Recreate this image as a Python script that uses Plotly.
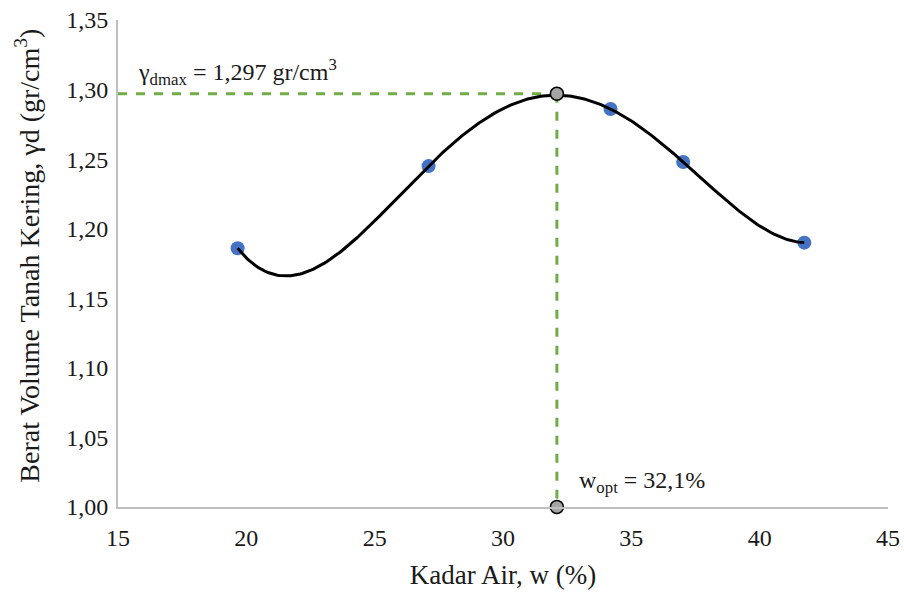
import numpy as np
import plotly.graph_objects as go

# Compaction test results
kadar_air = [19.66, 27.10, 34.19, 37.02, 41.74]        # water content w (%)
berat_volume = [1.186, 1.245, 1.286, 1.248, 1.190]     # dry unit weight (gr/cm3)

# Optimum from the compaction curve
w_opt = 32.1
gamma_dmax = 1.297
y_base = 1.00
x_base = 15

x_ticks = [15, 20, 25, 30, 35, 40, 45]
y_ticks = [1.00, 1.05, 1.10, 1.15, 1.20, 1.25, 1.30, 1.35]

# 4th-order polynomial trendline through the test points
coef = np.polyfit(kadar_air, berat_volume, 4)
xs = np.linspace(min(kadar_air), max(kadar_air), 300)
ys = np.polyval(coef, xs)

FONT = "Liberation Serif, Times New Roman, serif"
GREEN = "#70AD47"
TXT = "#1a1a1a"

fig = go.Figure()

fig.add_trace(go.Scatter(
    x=kadar_air, y=berat_volume, mode="markers",
    marker=dict(color="#4472C4", size=14, line=dict(width=0)),
    hoverinfo="skip", showlegend=False))

# guide lines to the optimum point
fig.add_trace(go.Scatter(
    x=[x_base, w_opt], y=[gamma_dmax, gamma_dmax], mode="lines",
    line=dict(color=GREEN, width=3, dash="dash"), showlegend=False))
fig.add_trace(go.Scatter(
    x=[w_opt, w_opt], y=[gamma_dmax, y_base], mode="lines",
    line=dict(color=GREEN, width=3, dash="dash"), showlegend=False))

fig.add_trace(go.Scatter(
    x=xs, y=ys, mode="lines",
    line=dict(color="black", width=3), showlegend=False))

fig.add_trace(go.Scatter(
    x=[w_opt, w_opt], y=[gamma_dmax, y_base], mode="markers",
    marker=dict(color="#A5A5A5", size=13, line=dict(color="black", width=1.5)),
    cliponaxis=False, showlegend=False))

fig.add_annotation(
    x=x_base, y=gamma_dmax, xref="x", yref="y",
    xanchor="left", yanchor="bottom", xshift=18, yshift=3,
    text="γ<sub>dmax</sub> = 1,297 gr/cm<sup>3</sup>",
    showarrow=False, font=dict(family=FONT, size=24, color=TXT))

fig.add_annotation(
    x=w_opt, y=y_base, xref="x", yref="y",
    xanchor="left", yanchor="bottom", xshift=20, yshift=8,
    text="w<sub>opt</sub> = 32,1%",
    showarrow=False, font=dict(family=FONT, size=24, color=TXT))

# y-axis title, placed on its own
fig.add_annotation(
    x=0, y=0.516, xref="paper", yref="paper",
    xanchor="center", yanchor="middle", xshift=-90,
    textangle=-90,
    text="Berat Volume Tanah Kering, γd (gr/cm<sup>3</sup>)",
    showarrow=False, font=dict(family=FONT, size=28, color=TXT))

fig.update_layout(
    width=904, height=594,
    margin=dict(l=118, r=16, t=20, b=87, autoexpand=False),
    paper_bgcolor="white", plot_bgcolor="white",
    separators=", ",
    font=dict(family=FONT, size=24, color=TXT),
)

fig.update_xaxes(
    range=[15, 45], tickvals=x_ticks, tickformat="d",
    showgrid=False, zeroline=False, automargin=False,
    showline=True, linecolor="#BFBFBF", linewidth=2,
    ticks="", ticklabelstandoff=8,
    tickfont=dict(family=FONT, size=24, color=TXT),
    title=dict(text="Kadar Air, w (%)", standoff=15,
               font=dict(family=FONT, size=27, color=TXT)))

fig.update_yaxes(
    range=[1.00, 1.35], tickvals=y_ticks, tickformat=".2f",
    showgrid=False, zeroline=False, automargin=False,
    showline=True, linecolor="#BFBFBF", linewidth=2,
    ticks="", ticklabelstandoff=3,
    tickfont=dict(family=FONT, size=24, color=TXT))

fig.write_html("out.html")
